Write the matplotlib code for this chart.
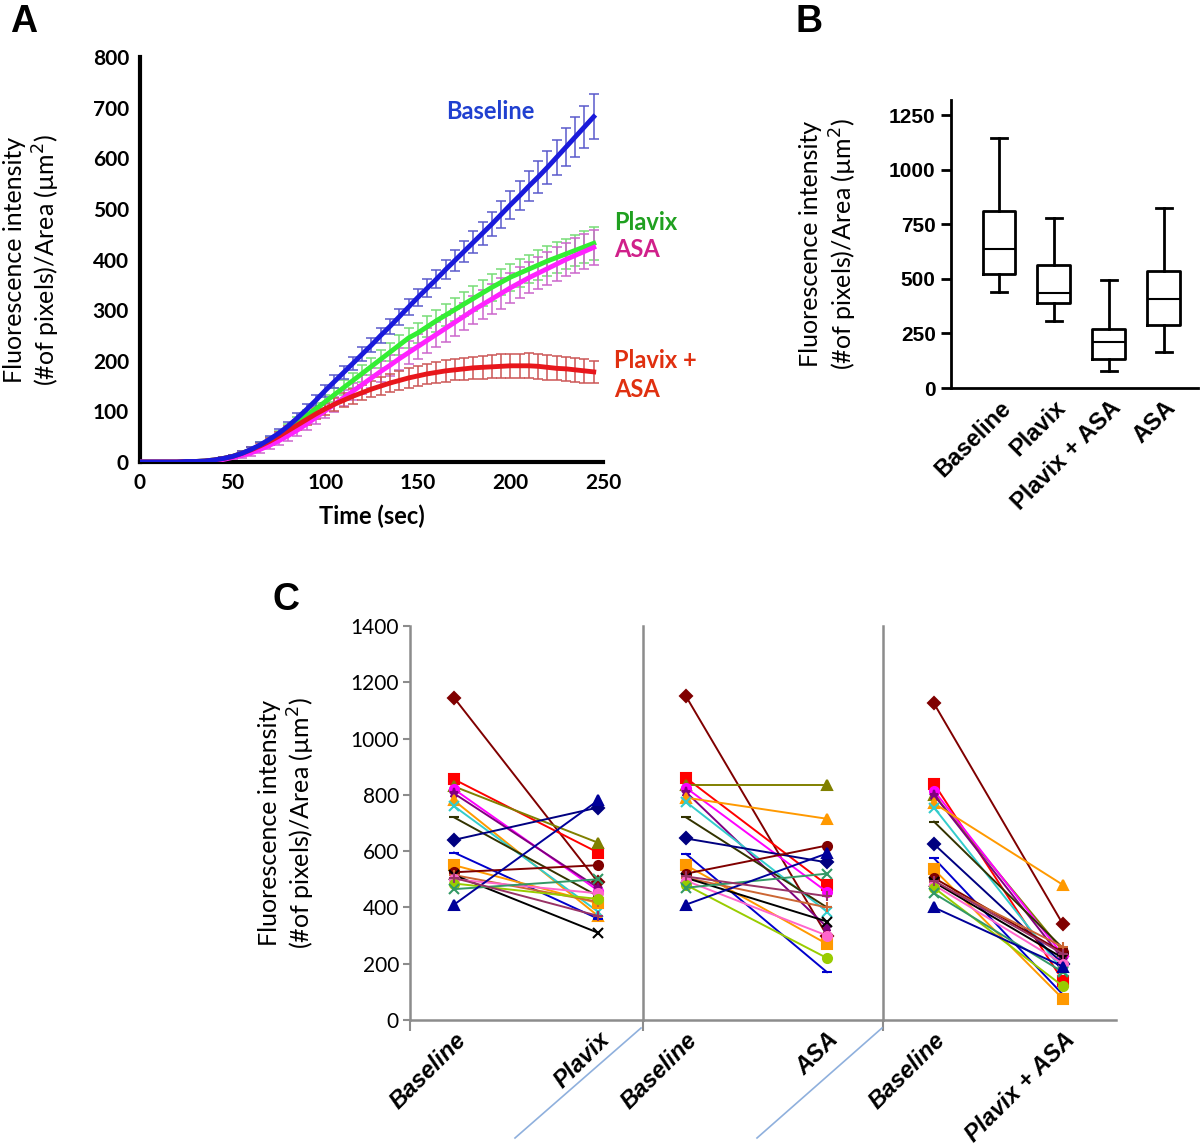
import matplotlib
matplotlib.use("Agg")
import matplotlib.pyplot as plt
from matplotlib.lines import Line2D

# ---------------- panel A: time course ----------------
time_sec = list(range(0, 250, 5))

baseline_mean = [0, 0, 0, 0, 0, 1, 1, 2, 4, 7,
                 11, 17, 25, 34, 45, 57, 71, 87, 104, 122,
                 141, 159, 177, 195, 213, 231, 250, 268, 287, 306,
                 325, 343, 361, 380, 398, 416, 434, 452, 470, 489,
                 508, 526, 545, 563, 582, 602, 622, 642, 662, 682]
baseline_err = [0, 0, 0, 0, 0, 1, 1, 1, 2, 2,
                3, 4, 5, 6, 7, 8, 9, 10, 10, 11,
                12, 12, 13, 13, 14, 14, 15, 15, 16, 16,
                17, 18, 18, 19, 20, 21, 22, 23, 24, 26,
                28, 29, 30, 32, 33, 35, 37, 39, 41, 44]

plavix_mean = [0, 0, 0, 0, 0, 1, 1, 2, 4, 7,
               11, 17, 24, 33, 43, 54, 66, 79, 92, 105,
               119, 133, 147, 161, 175, 189, 203, 217, 231, 245,
               255, 267, 279, 290, 301, 312, 323, 334, 345, 355,
               365, 373, 381, 389, 397, 404, 411, 418, 425, 432]
plavix_err = [0, 0, 0, 0, 0, 1, 1, 1, 2, 2,
              3, 4, 5, 6, 7, 8, 9, 10, 11, 12,
              13, 14, 14, 15, 16, 17, 18, 18, 19, 20,
              20, 21, 22, 22, 23, 24, 24, 25, 26, 26,
              27, 28, 28, 29, 29, 30, 30, 31, 31, 32]

asa_mean = [0, 0, 0, 0, 0, 0, 1, 1, 3, 5,
            9, 13, 18, 25, 33, 42, 52, 63, 75, 88,
            101, 114, 127, 140, 153, 166, 179, 191, 204, 216,
            228, 240, 252, 264, 276, 288, 300, 311, 322, 333,
            344, 354, 364, 373, 382, 391, 400, 408, 416, 424]
asa_err = [0, 0, 0, 0, 0, 1, 1, 1, 2, 3,
           4, 5, 6, 7, 8, 9, 10, 11, 12, 13,
           14, 15, 16, 17, 18, 19, 20, 21, 22, 23,
           24, 25, 25, 26, 27, 27, 28, 29, 29, 30,
           30, 31, 31, 32, 32, 33, 33, 34, 34, 35]

combo_mean = [0, 0, 0, 0, 0, 1, 1, 2, 4, 7,
              11, 17, 24, 32, 41, 51, 62, 73, 84, 95,
              105, 114, 122, 130, 137, 144, 150, 156, 161, 166,
              170, 174, 177, 180, 182, 184, 186, 187, 188, 189,
              190, 190, 190, 189, 187, 185, 184, 182, 180, 178]
combo_err = [0, 0, 0, 0, 0, 1, 1, 1, 2, 2,
             3, 4, 5, 6, 7, 8, 9, 10, 10, 11,
             12, 13, 14, 15, 15, 16, 17, 18, 18, 19,
             19, 20, 20, 21, 21, 22, 22, 23, 23, 24,
             24, 24, 25, 25, 25, 24, 24, 23, 23, 22]

# ---------------- panel B: box plot ----------------
box_names = ["Baseline", "Plavix", "Plavix + ASA", "ASA"]
box_whislo = [439, 308, 76, 163]
box_q1 = [521, 389, 133, 287]
box_med = [637, 434, 209, 407]
box_q3 = [812, 564, 270, 534]
box_whishi = [1143, 779, 495, 826]

# ---------------- panel C: paired values ----------------
plavix_base = [1145, 855, 830, 820, 805, 780, 760, 720, 640, 595, 550, 525, 515, 515, 500, 485, 465, 410, 505]
plavix_post = [490, 595, 630, 460, 470, 370, 385, 440, 755, 360, 415, 550, 420, 310, 450, 430, 500, 780, 370]
asa_base = [1150, 860, 835, 825, 810, 790, 775, 720, 645, 590, 550, 520, 505, 505, 495, 480, 470, 410, 510]
asa_post = [300, 480, 835, 455, 330, 715, 385, 400, 560, 170, 270, 620, 400, 350, 300, 220, 520, 592, 440]
combo_base = [1125, 840, 800, 815, 800, 770, 755, 705, 625, 575, 535, 505, 490, 490, 480, 470, 450, 400, 495]
combo_post = [340, 140, 245, 230, 215, 480, 175, 255, 200, 90, 75, 240, 260, 220, 200, 120, 170, 190, 235]
pair_labels = [("Baseline", "Plavix"), ("Baseline", "ASA"), ("Baseline", "Plavix + ASA")]

c_colors = ['#800000', '#FF0000', '#808000', '#FF00FF', '#800080', '#FF9900', '#33CCCC',
            '#333300', '#000080', '#0000CC', '#FF9900', '#800000', '#CC6633', '#000000',
            '#FF66CC', '#99CC00', '#339966', '#000099', '#993366']
c_markers = ['D', 's', '^', 'o', '*', '^', 'x', '_', 'D', '_', 's', 'o', '+', 'x',
             'o', 'o', 'x', '^', '+']

W, H = 1200, 1147
fig = plt.figure(figsize=(W / 100, H / 100), dpi=100)
calibri = ['Lato', 'DejaVu Sans']
arial = ['Liberation Sans', 'DejaVu Sans']
ylab = "Fluorescence intensity\n(#of pixels)/Area (\u00b5m$^2$)"


def box(l, t, r, b):
    return [l / W, 1 - b / H, (r - l) / W, (b - t) / H]


# ---- A ----
axA = fig.add_axes(box(140, 57, 603, 462))
series = [
    (plavix_mean, plavix_err, '#33ee33', '#77dd77'),
    (asa_mean, asa_err, '#ff22ff', '#cc66cc'),
    (combo_mean, combo_err, '#e8161b', '#cc5555'),
    (baseline_mean, baseline_err, '#1a1adb', '#5a5acc'),
]
for m, e, c, ec in series:
    axA.errorbar(time_sec, m, yerr=e, fmt='none', ecolor=ec, elinewidth=1.1,
                 capsize=3.5, capthick=1.1, zorder=2)
for m, e, c, ec in series:
    axA.plot(time_sec, m, color=c, lw=3.5, zorder=3)
axA.set_xlim(0, 250)
axA.set_ylim(0, 800)
axA.set_xticks(range(0, 251, 50))
axA.set_yticks(range(0, 801, 100))
axA.tick_params(length=0, pad=8, labelsize=15)
for lab in axA.get_xticklabels() + axA.get_yticklabels():
    lab.set_family(calibri)
    lab.set_fontweight('bold')
for s in ['top', 'right']:
    axA.spines[s].set_visible(False)
for s in ['left', 'bottom']:
    axA.spines[s].set_linewidth(3)
axA.set_xlabel("Time (sec)", family=calibri, fontweight='bold', fontsize=17, labelpad=8)
axA.set_ylabel(ylab, family=calibri, fontsize=18, labelpad=22, linespacing=1.2)
txt = dict(family=calibri, fontsize=17, fontweight='bold', clip_on=False)
axA.text(189, 693, "Baseline", color='#2040d0', ha='center', va='center', **txt)
axA.text(256, 474, "Plavix", color='#20a020', ha='left', va='center', **txt)
axA.text(256, 419, "ASA", color='#d0208a', ha='left', va='center', **txt)
axA.text(256, 201, "Plavix +", color='#e03010', ha='left', va='center', **txt)
axA.text(256, 144, "ASA", color='#e03010', ha='left', va='center', **txt)
fig.text(10 / W, 1 - 22 / H, "A", family=arial, fontsize=27, fontweight='bold', va='center')

# ---- B ----
axB = fig.add_axes(box(951, 100, 1198, 388))
stats = []
for i in range(len(box_names)):
    stats.append(dict(label=box_names[i], whislo=box_whislo[i], q1=box_q1[i], med=box_med[i],
                      q3=box_q3[i], whishi=box_whishi[i], fliers=[]))
lw = 2
axB.bxp(stats, positions=[1, 2, 3, 4], widths=0.6, showfliers=False,
        boxprops=dict(color='black', lw=lw), whiskerprops=dict(color='black', lw=lw),
        capprops=dict(color='black', lw=lw), medianprops=dict(color='black', lw=1.5))
axB.set_xlim(0.127, 4.62)
axB.set_ylim(0, 1319)
axB.set_yticks([0, 250, 500, 750, 1000, 1250])
axB.tick_params(axis='y', length=7, width=2, labelsize=15, pad=4)
axB.tick_params(axis='x', length=0, pad=6)
axB.set_xticklabels(box_names, rotation=45, ha='right', va='top', rotation_mode='anchor',
                    family=arial, fontweight='bold', fontsize=17)
for lab in axB.get_yticklabels():
    lab.set_family(arial)
    lab.set_fontweight('bold')
for s in ['top', 'right']:
    axB.spines[s].set_visible(False)
for s in ['left', 'bottom']:
    axB.spines[s].set_linewidth(2)
axB.set_ylabel(ylab, family=calibri, fontsize=18, labelpad=22, linespacing=1.2)
fig.text(795 / W, 1 - 22 / H, "B", family=arial, fontsize=27, fontweight='bold', va='center')

# ---- C ----
pairs = [(plavix_base, plavix_post), (asa_base, asa_post), (combo_base, combo_post)]
c_boxes = [box(410, 626, 643, 1020), box(643, 626, 883, 1020), box(883, 626, 1116, 1020)]
c_xlims = [(-0.306, 1.3125), (-0.305, 1.397), (-0.395, 1.411)]
gray = '#8c8c8c'
for k in range(3):
    ax = fig.add_axes(c_boxes[k])
    base, post = pairs[k]
    for j in range(len(base)):
        ax.plot([0, 1], [base[j], post[j]], color=c_colors[j], lw=1.4,
                marker=c_markers[j], ms=6.5, mew=1.5, clip_on=False)
    ax.set_xlim(*c_xlims[k])
    ax.set_ylim(0, 1400)
    ax.set_xticks([0, 1])
    ax.set_xticklabels(pair_labels[k], rotation=45, ha='right', va='top',
                       rotation_mode='anchor', family=arial, fontweight='bold',
                       style='italic', fontsize=17)
    ax.tick_params(axis='x', length=0, pad=6)
    ax.set_xticks([c_xlims[k][0]], minor=True)
    ax.tick_params(axis='x', which='minor', length=8, color=gray, width=1.5)
    for s in ['top', 'right']:
        ax.spines[s].set_visible(False)
    for s in ['left', 'bottom']:
        ax.spines[s].set_color(gray)
        ax.spines[s].set_linewidth(1.8)
    if k == 0:
        ax.set_yticks(range(0, 1401, 200))
        ax.tick_params(axis='y', length=5, color=gray, width=1.5, labelsize=15, pad=3)
        for lab in ax.get_yticklabels():
            lab.set_family(calibri)
        ax.set_ylabel(ylab, family=calibri, fontsize=18, labelpad=24, linespacing=1.2)
    else:
        ax.set_yticks([])

# Excel leftovers: slanted connectors under the section dividers
for x0, x1 in [(515, 641), (757, 882)]:
    fig.add_artist(Line2D([x0 / W, x1 / W], [1 - 1138 / H, 1 - 1028 / H],
                          color='#8fb0dd', lw=1.2))
fig.text(272 / W, 1 - 600 / H, "C", family=arial, fontsize=27, fontweight='bold', va='center')

fig.savefig("out.png", dpi=100)
